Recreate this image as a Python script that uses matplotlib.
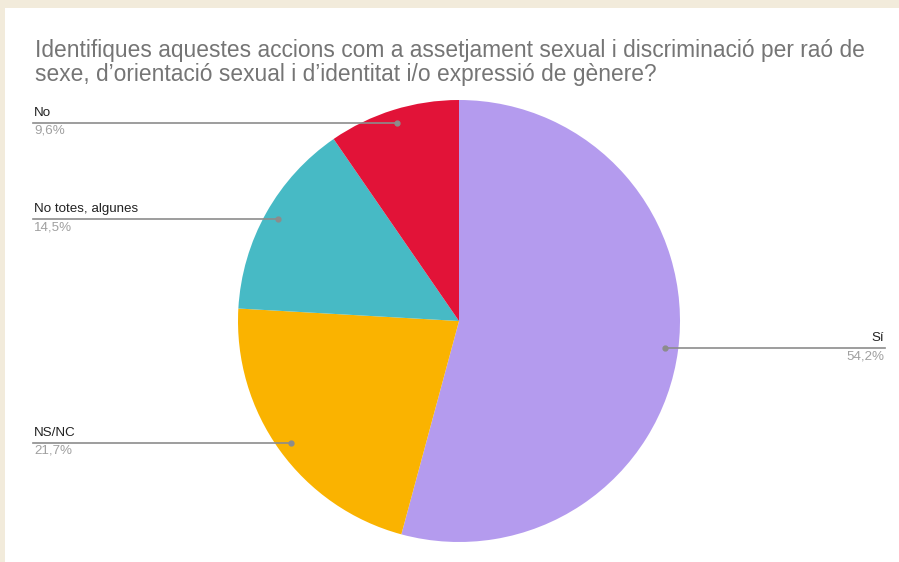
import numpy as np
import matplotlib.pyplot as plt
from matplotlib.patches import Rectangle

# data
labels = ['Sí', 'NS/NC', 'No totes, algunes', 'No']
values = [54.2, 21.7, 14.5, 9.6]
pct_text = ['54,2%', '21,7%', '14,5%', '9,6%']
colors = ['#b49bee', '#fab300', '#47bac5', '#e21338']

title = ("Identifiques aquestes accions com a assetjament sexual i discriminació per raó de\n"
         "sexe, d\u2019orientació sexual i d\u2019identitat i/o expressió de gènere?")

plt.rcParams['font.family'] = ['Liberation Sans', 'DejaVu Sans']

W, H = 899, 562
fig = plt.figure(figsize=(W / 100, H / 100), dpi=100, facecolor='#f2ebdb')
ax = fig.add_axes([0, 0, 1, 1])

# white card on the beige frame
ax.add_patch(Rectangle((5, 0), W - 5, H - 8, facecolor='white', edgecolor='none', zorder=0))

cx, cy, r = 459, H - 321, 221
wedges, _ = ax.pie(values, colors=colors, startangle=90, counterclock=False,
                   center=(cx, cy), radius=r, frame=True,
                   wedgeprops=dict(linewidth=0))
ax.set_xlim(0, W)
ax.set_ylim(0, H)
ax.set_aspect('equal')
ax.axis('off')

# leader lines and labels
for w, lab, pct in zip(wedges, labels, pct_text):
    ang = np.deg2rad((w.theta1 + w.theta2) / 2)
    px = cx + 0.94 * r * np.cos(ang)
    py = cy + 0.94 * r * np.sin(ang)
    if px > cx:
        x_end = 885
        ha = 'right'
    else:
        x_end = 33
        ha = 'left'
    ax.plot([px, x_end], [py, py], color='#8c8c8c', linewidth=1.2, zorder=3)
    ax.plot([px], [py], 'o', color='#8c8c8c', markersize=3.5, zorder=4)
    tx = x_end - 1 if ha == 'right' else x_end + 1
    ax.text(tx, py + 4, lab, ha=ha, va='bottom', fontsize=9.6, color='#222222', zorder=5)
    ax.text(tx, py - 2, pct, ha=ha, va='top', fontsize=9.6, color='#a0a0a0', zorder=5)

ax.text(35, H - 81, title, ha='left', va='baseline', fontsize=16.4, color='#757575',
        linespacing=1.05)

fig.savefig('out.png', dpi=100, facecolor=fig.get_facecolor())
